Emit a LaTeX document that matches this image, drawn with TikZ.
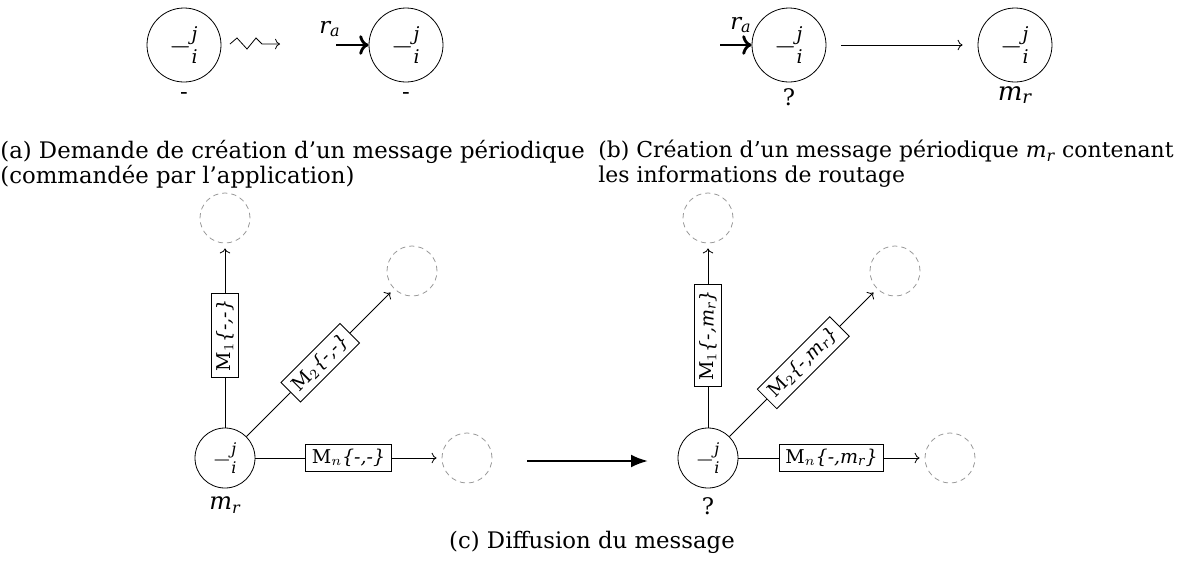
\documentclass[tikz,border=0pt]{standalone}
\usepackage{amsmath}
\usepackage{fontspec}
\setmainfont{DejaVu Serif}
\usetikzlibrary{arrows.meta,calc}
\newcommand\ntxt{$-^{\textit{j}}_{\textit{i}}$}
\newcommand\mymr{$\textit{m}_{\textit{r}}$}
\newcommand\myra{$\textit{r}_{\textit{a}}$}
\begin{document}
\begin{tikzpicture}[x=0.5pt,y=-0.5pt,
  every node/.style={font=\fontsize{11.4}{12.5}\selectfont},
  proc/.style={circle,draw,minimum size=37pt,inner sep=0pt,font=\fontsize{13.5}{15}\selectfont},
  procs/.style={circle,draw,minimum size=30pt,inner sep=0pt,font=\fontsize{12}{14}\selectfont},
  ghost/.style={circle,draw=gray!80,dash pattern=on 2.6pt off 2pt,minimum size=25pt,inner sep=0pt},
  msg/.style={draw,fill=white,inner xsep=3pt,inner ysep=2.5pt,font=\fontsize{9.5}{11}\selectfont,sloped},
  link/.style={->,shorten >=2.5pt},
  boldarrow/.style={line width=1.4pt,->},
  bigarrow/.style={line width=1.2pt,-{Latex[length=8.5pt,width=6.5pt]}},
  lbl/.style={inner sep=0pt},
]
\useasboundingbox (0,0) rectangle (1185,569);

% ---------- (a) ----------
\node[proc] (a1) at (184,45) {\ntxt};
\node[lbl] (a1l) at (184,96) {-};
\coordinate (zs) at (230,44);
\coordinate (ze) at (280,44);
\draw[->] (zs) -- ++(7,-6) -- ++(10,11) -- ++(9,-11) -- ++(6,6) -- (ze);
\node[proc] (a2) at (406,45) {\ntxt};
\coordinate (ra1) at (336,45);
\node[lbl] (ra1l) at (330,29) {\myra};
\draw[boldarrow] (ra1) -- (a2);
\node[lbl] (a2l) at (406,96) {-};

% ---------- (b) ----------
\node[proc] (b1) at (789,45) {\ntxt};
\coordinate (ra2) at (720,45);
\node[lbl] (ra2l) at (741,25) {\myra};
\draw[boldarrow] (ra2) -- (b1);
\node[proc] (b2) at (1015,45) {\ntxt};
\draw[->,shorten <=7.5pt,shorten >=7.5pt] (b1) -- (b2);
\node[lbl] (b1l) at (789,97) {?};
\node[lbl,font=\fontsize{13}{15}\selectfont] (b2l) at (1015,95) {\mymr};

% ---------- captions ----------
\node[anchor=north west,inner sep=0pt,align=left] (capa) at (0,140)
  {(a) Demande de création d’un message périodique\\(commandée par l’application)};
\node[anchor=north west,inner sep=0pt,align=left,font=\fontsize{10.95}{12.5}\selectfont] (capb) at (598,140)
  {(b) Création d’un message périodique \mymr{} contenant\\les informations de routage};

% ---------- (c) left ----------
\node[procs] (c1) at (225,458) {\ntxt};
\node[ghost] (g1) at (225,218) {};
\node[ghost] (g2) at (412,271) {};
\node[ghost] (g3) at (467,458) {};
\draw[link] (c1) -- node[msg] {M$_1${\itshape\{-,-\}}} (g1);
\draw[link] (c1) -- node[msg] {M$_2${\itshape\{-,-\}}} (g2);
\draw[link] (c1) -- node[msg] {M$_n${\itshape\{-,-\}}} (g3);
\node[lbl,font=\fontsize{12}{14}\selectfont] (c1l) at (225,505) {\mymr};

% ---------- transition ----------
\coordinate (t1) at (527,461);
\coordinate (t2) at (648,461);
\draw[bigarrow] (t1) -- (t2);

% ---------- (c) right ----------
\node[procs] (d1) at (708,458) {\ntxt};
\node[ghost] (h1) at (708,218) {};
\node[ghost] (h2) at (895,271) {};
\node[ghost] (h3) at (950,458) {};
\draw[link] (d1) -- node[msg] {M$_1${\itshape\{-,\mymr\}}} (h1);
\draw[link] (d1) -- node[msg] {M$_2${\itshape\{-,\mymr\}}} (h2);
\draw[link] (d1) -- node[msg] {M$_n${\itshape\{-,\mymr\}}} (h3);
\node[lbl] (d1l) at (708,506) {?};

\node[lbl] (capc) at (592,542) {(c) Diffusion du message};
\end{tikzpicture}
\end{document}
